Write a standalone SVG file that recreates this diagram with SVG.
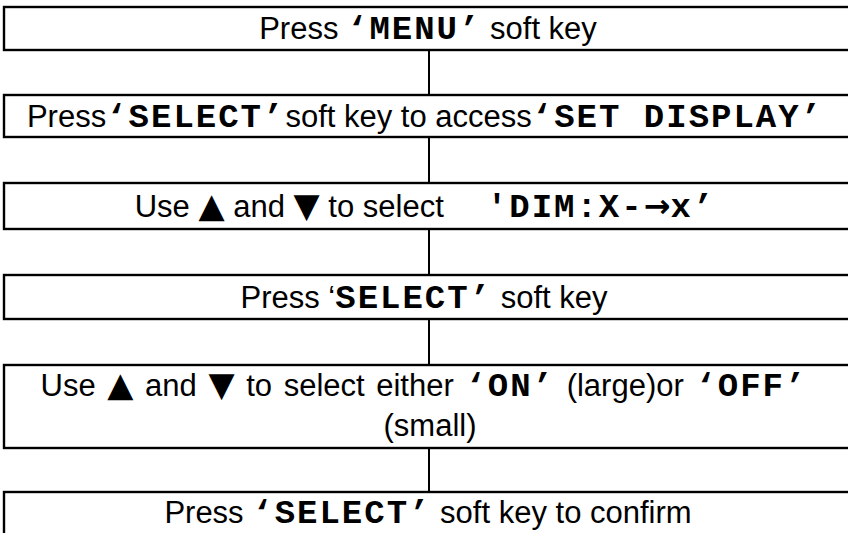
<svg xmlns="http://www.w3.org/2000/svg" width="848" height="533" viewBox="0 0 848 533">
<style>
.box{fill:#fff;stroke:#000;stroke-width:2.4}
.conn line{stroke:#000;stroke-width:2}
text{font-family:"Liberation Sans",Arial,sans-serif;font-size:31px;fill:#000;text-anchor:middle;white-space:pre}
.m{font-family:"Liberation Mono","Courier New",monospace;font-weight:bold;font-size:34px;letter-spacing:2px}
.t{font-family:"DejaVu Sans",sans-serif;font-size:34px}
.a{font-family:"DejaVu Sans",sans-serif;font-weight:bold;font-size:32px;letter-spacing:0}
.w{word-spacing:3px}
</style>
<rect width="848" height="533" fill="#fff"/>
<g id="connectors" class="conn">
<line x1="429" y1="50" x2="429" y2="95"/>
<line x1="429" y1="137" x2="429" y2="183"/>
<line x1="429" y1="229" x2="429" y2="275"/>
<line x1="429" y1="319" x2="429" y2="365"/>
<line x1="429" y1="448" x2="429" y2="492"/>
</g>
<g id="n1"><rect class="box" x="4" y="7" width="860" height="43"/>
<text x="428" y="39">Press <tspan class="m">‘MENU’</tspan> soft key</text></g>
<g id="n2"><rect class="box" x="4" y="95" width="860" height="42"/>
<text x="425" y="127">Press<tspan class="m">‘SELECT’</tspan>soft key to access<tspan class="m">‘SET DISPLAY’</tspan></text></g>
<g id="n3"><rect class="box" x="4" y="183" width="860" height="46"/>
<text x="425" y="217">Use <tspan class="t">▲</tspan> and <tspan class="t">▼</tspan> to select     <tspan class="m">'DIM:X-<tspan class="a">→</tspan>x’</tspan></text></g>
<g id="n4"><rect class="box" x="4" y="275" width="860" height="44"/>
<text x="424" y="308">Press ‘<tspan class="m">SELECT’</tspan> soft key</text></g>
<g id="n5"><rect class="box" x="4" y="365" width="860" height="83"/>
<text class="w" x="424" y="396">Use <tspan class="t">▲</tspan> and <tspan class="t">▼</tspan> to select either <tspan class="m">‘ON’</tspan> (large)or <tspan class="m">‘OFF’</tspan></text>
<text x="430" y="436">(small)</text></g>
<g id="n6"><rect class="box" x="4" y="492" width="860" height="60"/>
<text x="428" y="523">Press <tspan class="m">‘SELECT’</tspan> soft key to confirm</text></g>
</svg>
